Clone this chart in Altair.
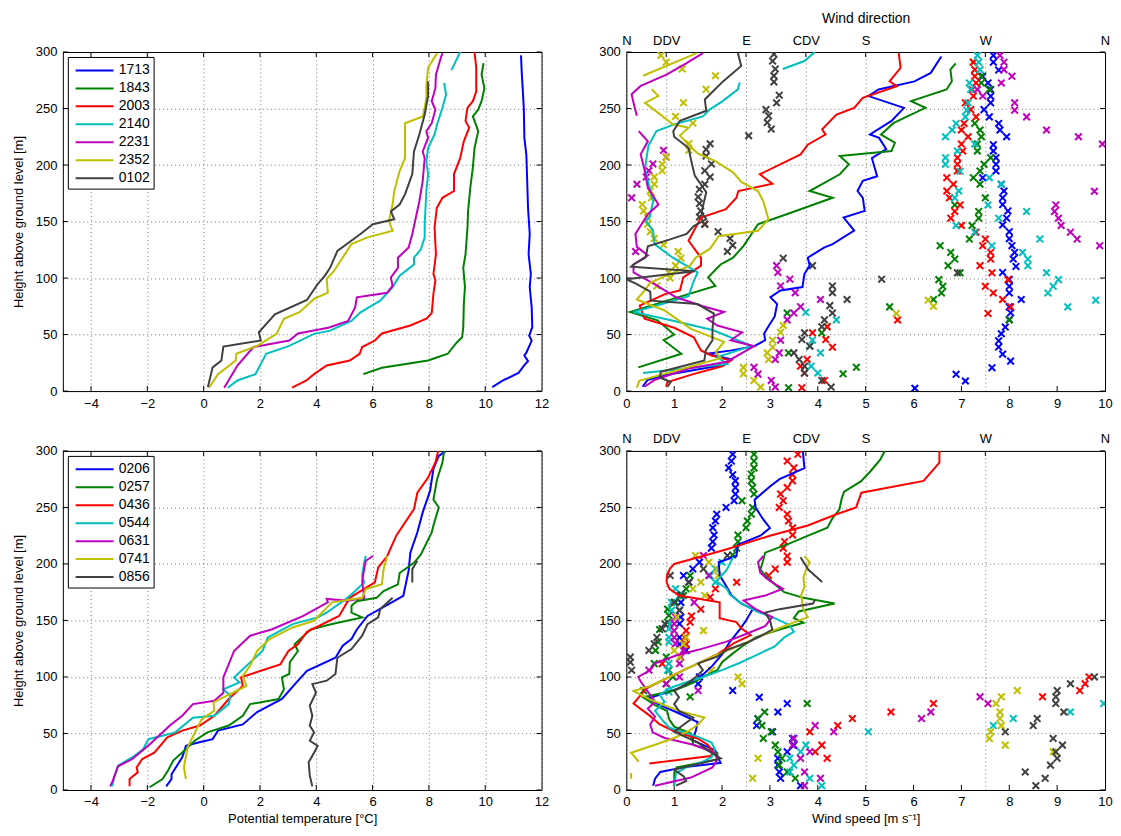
import altair as alt
import pandas as pd

FONT = "Liberation Sans"
RUNS_TOP = ["1713", "1843", "2003", "2140", "2231", "2352", "0102"]
RUNS_BOT = ["0206", "0257", "0436", "0544", "0631", "0741", "0856"]
COLORS = ["#0000ff", "#008000", "#ff0000", "#00bfbf", "#bf00bf", "#bfbf00", "#404040"]

TEMP_TICKS = [-4, -2, 0, 2, 4, 6, 8, 10, 12]
SPEED_TICKS = [0, 1, 2, 3, 4, 5, 6, 7, 8, 9, 10]
HEIGHT_TICKS = [0, 50, 100, 150, 200, 250, 300]
DIR_TICKS = [0, 30, 90, 135, 180, 270, 360]
DIR_NAMES = ["N", "DDV", "E", "CDV", "S", "W", "N"]

# ---------------- potential temperature, evening/night (height m, theta degC) ----------------
TH_1713 = [(3.5,10.25),(9.4,10.63),(16,11.18),(23,11.39),(26.5,11.52),(31.5,11.39),(34,11.46),(44.7,11.65),(49,11.56),(56.5,11.67),(74,11.65),(92,11.58),(103.5,11.62),(121,11.54),(139,11.58),(162,11.52),(186,11.49),(209,11.46),(224,11.39),(250,11.37),(268,11.33),(280,11.30),(297,11.27)]
TH_1843 = [(15,5.67),(20.6,6.33),(27,7.97),(33,8.67),(43,8.99),(47.6,9.18),(56.5,9.22),(77,9.24),(92,9.28),(109,9.22),(121,9.30),(144.7,9.37),(159,9.39),(180,9.47),(197.6,9.56),(215,9.62),(230,9.75),(239,9.62),(243,9.56),(249,9.75),(256.5,9.87),(268,9.97),(280,9.87),(290,9.94)]
TH_2003 = [(3,3.14),(9.4,3.65),(15,3.92),(22.6,4.37),(27,5.19),(33,5.54),(39,5.63),(44.7,6.08),(51,6.33),(58,7.34),(64,7.91),(69,8.10),(86,8.16),(98,8.23),(103.5,8.16),(121,8.25),(144.7,8.20),(162,8.28),(171,8.48),(177,8.89),(192,8.89),(206,9.11),(221,9.24),(233,9.43),(239,9.30),(250.6,9.37),(256.5,9.56),(265,9.68),(286,9.68),(300,9.62)]
TH_2140_A = [(3,0.86),(9.4,1.20),(15,1.84),(33,2.22),(40,3.04),(50.6,3.92),(53.5,4.49),(62,5.25),(69.7,5.57),(80,6.27),(92,6.71),(102,6.96),(112,7.47),(118,7.47),(125.6,7.72),(136,7.85),(147.6,7.85),(177,7.91),(192,7.97),(203.5,7.91),(215,7.97),(227,8.20),(236,8.29),(250.6,8.48),(262.4,8.61),(272.6,8.54)]
TH_2140_B = [(284,8.80),(300,9.11)]
TH_2231 = [(3,0.73),(22.6,1.20),(39,1.77),(44.7,3.04),(51,3.35),(56,4.43),(62,5.13),(74,5.38),(83,5.44),(87,6.52),(93,6.71),(100.6,6.65),(109,6.90),(118,6.90),(127,7.28),(139,7.41),(168,7.66),(186,7.78),(206,7.85),(212,7.78),(224,7.97),(230,7.91),(237,8.10),(249,8.23),(256.5,8.10),(268,8.23),(280,8.25),(294.7,8.42),(299,8.48)]
TH_2352 = [(3,0.19),(15,0.51),(27,1.14),(33,1.16),(40,1.90),(50.6,2.59),(64,2.85),(70,3.42),(81.5,3.92),(87,4.41),(99,4.37),(106,4.62),(130,5.25),(136,5.82),(141.8,6.71),(150.6,6.58),(165,6.71),(177,6.77),(194.7,6.96),(206,7.15),(226,7.15),(237,7.15),(243,7.78),(250.6,7.85),(260,7.91),(270,7.91),(286,7.97),(299,8.29)]
TH_0102 = [(3.5,0.15),(21,0.32),(27,0.63),(39.4,0.70),(44.7,2.03),(52,1.96),(68,2.53),(80.6,3.67),(94.7,4.05),(102,4.30),(109,4.49),(124,4.75),(139,5.57),(147.6,6.01),(152,6.77),(159,6.65),(165,6.96),(174,7.15),(192,7.41),(212,7.47),(227,7.66),(244.7,7.85),(261,7.97),(274,7.97)]

# ---------------- potential temperature, morning ----------------
TH_0206 = [(3.2,-1.33),(9.7,-1.14),(14,-1.14),(29,-0.76),(39,-0.63),(42,-0.19),(45,0.32),(52.5,0.51),(58,1.39),(69,1.90),(80.5,2.78),(95,3.29),(105.5,3.67),(117,4.68),(127.6,4.94),(133.5,5.25),(142,5.44),(154,5.82),(163,6.46),(171.8,7.09),(194,7.28),(210,7.34),(228,7.59),(245.6,7.78),(264.6,8.04),(284,8.16),(295.6,8.35),(300,8.61)]
TH_0257 = [(2.4,-1.92),(9.7,-1.46),(17,-1.27),(26,-1.08),(36,-0.63),(43.6,-0.32),(51,0.13),(57,0.89),(65.7,1.39),(76,1.65),(80.5,2.66),(89,2.85),(99.6,2.78),(102.6,3.04),(113,3.06),(123,3.35),(129,3.23),(142,3.80),(146.8,4.56),(152.7,5.63),(157,5.25),(163,5.25),(167,5.44),(170,6.14),(176,6.39),(182,6.90),(192,6.96),(201,7.47),(208.6,7.72),(227.8,8.10),(234,8.16),(250,8.35),(257,8.16),(275,8.29),(289.7,8.48),(300,8.54)]
TH_0436 = [(3.2,-2.63),(9.7,-2.63),(15.6,-2.34),(20,-2.38),(27.4,-2.18),(33,-1.75),(46.6,-1.29),(52.5,-0.76),(57,-0.13),(65.7,0.38),(80.5,0.89),(92,1.39),(99.6,1.33),(105.5,2.03),(111,2.72),(123,3.01),(129,3.35),(140,3.67),(154,4.81),(170,5.19),(183.6,6.08),(197,6.20),(207,6.52),(225,6.84),(248.5,7.47),(263,7.59),(276.4,7.97),(289.7,8.23),(300,8.33)]
TH_0544 = [(3.2,-3.25),(12.7,-3.16),(21.5,-3.04),(29,-2.53),(36,-2.15),(45,-1.96),(48,-1.46),(51,-1.01),(64,-0.38),(65.7,0.38),(76,0.89),(83.4,0.95),(89,0.70),(95.2,1.27),(99.6,1.08),(112.9,1.65),(123,2.09),(135,2.28),(146.8,3.16),(152.7,4.05),(157,4.37),(167,4.94),(173,5.25),(183.6,5.70),(189.5,5.63),(201,5.70),(207,5.76)]
TH_0631 = [(3.2,-3.32),(8,-3.23),(21,-3.04),(27.4,-2.53),(40.7,-1.90),(57,-1.20),(65.7,-0.76),(76,-0.38),(79,0.38),(86,0.70),(99.6,0.70),(123,1.08),(136.5,1.65),(142,2.41),(154,3.54),(166,4.41),(169,4.37),(167.5,5.13),(170,5.70),(185,5.63),(195.4,5.70),(202.8,5.76),(207,6.01)]
TH_0741 = [(9.7,-0.63),(20,-0.70),(37.7,-0.57),(54,-0.25),(62.8,-0.06),(70,0.38),(77.5,0.35),(92,1.52),(101,1.39),(110,1.65),(123,1.90),(133.5,2.34),(143.8,3.16),(149.7,3.92),(166,4.56),(170,5.63),(177.7,5.76),(182,6.33),(195.4,6.39),(207,6.52)]
TH_0856_A = [(3.2,3.86),(12.7,3.77),(24.5,3.73),(33,3.92),(39,4.05),(43.6,3.77),(51,3.92),(57,3.77),(65.7,3.86),(74.6,3.77),(86,3.99),(93.7,3.86),(96.7,4.37),(102.6,4.68),(117,4.75),(124.7,5.25),(136.5,5.63),(146.8,5.82),(152.7,6.20),(160,6.27),(170,6.71)]
TH_0856_B = [(183.6,7.41),(195.4,7.41),(202.8,7.59)]

# ---------------- wind speed, evening/night (height m, speed m/s) ----------------
WS_1713 = [(3.8,0.34),(9.7,0.44),(14,0.8),(20,1.6),(23,2.04),(28,2.2),(33,1.69),(36,2.2),(39.7,2.67),(45,2.9),(51,2.88),(58,2.98),(66,3.1),(77,3.15),(83,3.01),(89,3.22),(92,3.68),(103.5,3.72),(111,3.83),(118,3.79),(127,4.13),(130,4.31),(142,4.76),(153.5,4.54),(159.4,4.98),(171,4.94),(177,4.83),(186,4.94),(190,5.24),(206,5.13),(214,5.43),(224,5.28),(227,5.09),(239,5.54),(250.6,5.80),(261,5.06),(266.8,5.27),(274,6.02),(281.5,6.36),(296,6.58)]
WS_1843 = [(21,0.25),(33,1.15),(45,0.78),(50,1.0),(62.6,0.65),(70,0.08),(78,0.7),(84.7,1.21),(93,1.86),(100.6,1.71),(112,1.97),(118,2.23),(128.5,2.45),(147.6,2.75),(156.5,3.35),(171,4.31),(177,3.83),(191.8,4.46),(200.6,4.65),(208,4.46),(212.4,5.54),(219.7,5.61),(227,5.32),(237,5.58),(243,5.87),(250.6,6.25),(256.5,5.95),(266.8,6.69),(274,6.80),(284.4,6.77),(290,6.88)]
WS_2003 = [(3.8,0.83),(8,0.86),(15,1.4),(22,2.0),(27,2.18),(31.5,1.78),(36,1.56),(47.6,1.41),(56,1.0),(64,0.38),(75.6,0.28),(86,0.82),(89,1.12),(100.6,1.19),(111,1.56),(118,1.56),(133,1.30),(153.5,1.56),(161,2.08),(171,2.30),(177,2.34),(183.5,3.05),(191.8,2.79),(209.4,3.64),(218,3.79),(227,4.16),(231.5,4.09),(244.7,4.39),(250.6,4.76),(259.4,4.94),(269.7,5.65),(274,5.50),(286,5.73),(299,5.69)]
WS_2140_A = [(16,0.35),(24,2.1),(30,1.9),(40,2.62),(54,1.8),(62,1.0),(70,0.15),(77,0.75),(84,1.3),(97.6,1.41),(105,1.49),(118,0.97),(130,0.59),(141.8,0.56),(150.6,0.41),(154,0.49),(168,0.56),(184.7,0.46),(196.5,0.39),(217,0.46),(230,0.63),(236,1.0),(243,1.6),(249,1.74),(256.8,2.02),(267,2.33),(273,2.37)]
WS_2140_B = [(285,3.27),(292,3.72),(300,3.94)]
WS_2231_A = [(3.8,0.38),(10,0.6),(20,1.3),(26,2.1),(39.7,2.67),(45,2.18),(52,2.42),(58,1.9),(64,1.69),(70,2.04),(75,1.6),(83,1.04),(94.7,0.59),(105,0.15),(112,0.15),(120,0.45),(127.6,0.22),(139,0.19),(156.5,0.45),(165,0.67),(180,0.45),(197.6,0.37),(209.4,0.30),(221,0.45),(230,0.26)]
WS_2231_B = [(243.5,0.22),(255,0.15),(262.6,0.11),(270,0.3),(280,0.84),(290,1.25),(299,1.60)]
WS_2352_A = [(3,0.22),(9,0.27),(29,1.97),(34.7,1.87),(43.5,2.04),(55,1.35),(71.5,0.79),(81,0.22),(90,0.4),(96,0.5),(105,1.0),(111,1.33),(118,1.45),(126,1.75),(137,1.93),(141.8,2.75),(152,2.97),(168,2.86),(177,2.75),(185,2.4),(193.5,2.23),(203.5,1.86),(210,1.5),(218,1.3),(226,1.12),(230,1.22),(233,1.3),(236,0.97),(245,0.70),(255,0.39),(261,0.67),(267,0.53)]
WS_2352_B = [(279,0.35),(299,1.47)]
WS_0102 = [(3.8,0.86),(8,0.93),(12,0.7),(17,0.72),(27,1.63),(36,1.66),(45,1.8),(55,1.8),(68.5,1.83),(77,1.49),(80,0.51),(88,0.5),(95,0.2),(99,0.0),(103,0.8),(106,1.43),(110,0.1),(112,0.15),(118,0.4),(128,0.45),(134,0.9),(139,1.26),(146,1.41),(152,1.67),(158,1.57),(176,1.67),(190.6,1.43),(205,1.35),(215,1.3),(225,1.0),(230,0.98),(239,1.12),(248,1.67),(258,1.64),(274,2.02),(287.6,2.40),(299,2.33)]

# ---------------- wind speed, morning ----------------
WS_0206 = [(3.8,0.56),(10,0.6),(16,0.71),(20,1.19),(24,1.97),(30,1.9),(35,1.86),(44,1.38),(52,1.45),(60,1.49),(69,1.04),(75,0.7),(81,0.45),(87,0.9),(92.6,1.26),(100,1.55),(110,1.8),(120,2.0),(130.9,2.16),(142.6,2.38),(150,2.5),(160,2.64),(165,2.4),(172,2.2),(181,2.08),(190,1.95),(201.5,1.93),(207,2.30),(217,2.33),(225,2.8),(231.8,3.0),(240,2.85),(250,2.7),(256.8,2.68),(268.5,3.0),(275,3.2),(284.7,3.72),(299,3.69)]
WS_0257 = [(4,1.0),(15,1.0),(20,1.05),(27,1.9),(33,1.9),(40,1.4),(50,1.35),(56,1.0),(62,0.9),(70,0.85),(75,0.6),(82,0.35),(88,1.0),(95,1.4),(100,1.6),(106,1.9),(113,2.0),(120,2.2),(128,2.45),(135,2.7),(142,3.2),(148,3.7),(152,3.5),(158,3.6),(165,4.35),(170,3.7),(175,3.3),(182,3.1),(190,2.9),(195,2.8),(202,2.85),(210,2.9),(218,3.4),(225,3.8),(232,4.2),(240,4.3),(248,4.45),(258,4.5),(264,4.55),(273,4.9),(282,5.1),(292,5.3),(300,5.4)]
WS_0436 = [(23.5,0.48),(30,1.76),(33.8,1.82),(40,1.7),(45.6,1.49),(52,1.0),(58,0.7),(66,0.48),(76.5,0.15),(84,0.3),(89.7,0.41),(100,0.9),(110,1.4),(120,1.9),(130,2.25),(137,2.6),(143,2.4),(148.5,2.3),(152,1.95),(160,1.95),(166,1.95),(172,1.1),(178,0.9),(184,0.84),(190,0.85),(195.6,0.91),(200,1.0),(207,1.6),(213,2.1),(225,3.0),(234,3.79),(244,4.39),(250,4.8),(263,4.91),(273.5,6.21),(289.7,6.54),(300,6.54)]
WS_0544 = [(4,1.0),(15,1.04),(20,1.25),(25,1.6),(29,1.78),(36,1.85),(42,1.78),(47,1.5),(55,0.9),(62,0.75),(70,0.6),(78,0.8),(84,0.7),(90,0.9),(96,1.3),(100,1.6),(106,2.0),(113,2.4),(120,2.75),(127,3.1),(135,3.3),(140,3.5),(146,3.4),(152,3.1),(158,2.72),(165,2.4),(173,2.16),(178,2.1),(184.7,1.88),(195,2.1),(206,2.23)]
WS_0631 = [(3.8,0.6),(11,1.35),(20,1.8),(27,1.9),(33,1.85),(40,1.4),(46,0.8),(51,0.55),(58,0.5),(65,0.6),(72,0.45),(78,0.6),(84,0.5),(90,0.4),(96,0.3),(100,0.25),(106,0.5),(112,0.6),(119,1.04),(124,1.5),(131,2.08),(138,2.5),(145,2.9),(153,3.05),(160,2.7),(167.6,2.45),(172,2.9),(178,3.27),(185,3.0),(192,2.8),(201.5,2.75),(207,2.86)]
WS_0741_A = [(10,0.1),(15,0.1)]
WS_0741_B = [(25,0.26),(33,0.1),(40,0.6),(46,1.0),(52,1.3),(58,1.5),(64,1.63),(70,1.1),(75,0.8),(80,0.5),(87.6,0.15),(92,0.5),(98,0.8),(104,1.1),(110,1.4),(118,1.8),(125,2.2),(131,2.53),(138,2.9),(145,3.3),(153,3.79),(160,3.7),(165,3.68),(172,3.65),(180,3.72),(188,3.7),(195.6,3.76),(201.5,3.83),(207,3.72)]
WS_0856_A = [(3.8,1.04),(8,1.25),(12,1.2),(18,1.0),(23,1.5),(28,1.97),(35,1.7),(42,1.5),(51.5,1.0),(58,1.2),(64,1.4),(70,1.1),(76,1.0),(82,1.1),(88,1.0),(95,1.3),(100,1.45),(106,1.6),(112,1.5),(118,1.9),(124,2.1),(130,2.5),(136,2.8),(142,3.05),(150,3.0),(157,2.9),(160,3.2),(165,3.9),(168,3.94)]
WS_0856_B = [(184,4.09),(195,3.8),(206,3.64)]

# ---------------- wind direction, evening/night (height m, direction deg) ----------------
WD_1713 = [(297,276),(291,276),(284,280),(278.5,268),(272.6,272),(266.8,274),(260.9,274),(255,274),(249,269),(242.6,273),(236.8,280),(231,281),(225,286),(218,276),(212.4,276),(206.5,278),(200.6,278),(194.7,278),(188.8,268),(183,282),(177,284),(171,283),(165,283),(159.4,287),(153,286),(147,283),(141,288),(134.8,288),(128.6,290),(122.7,292),(116.8,291),(110.3,293),(105,283),(98.6,288),(92.7,288),(86.8,288),(81,297),(74.5,288),(69.2,289),(63.3,288),(56.6,285),(50.7,282),(44.5,280),(38.9,280),(32.7,283),(26.5,289),(20.7,275),(14.8,248),(8.9,255),(2.5,217)]
WD_1843 = [(291,261),(278.5,267),(272.6,267),(266.8,273),(236.8,262),(231,266),(225,267),(218.5,264),(212.4,264),(206.5,274),(200.6,269),(194.7,266),(188.8,261),(183,266),(171,270),(164.7,247),(158.9,265),(153,265),(146.5,260),(134.5,258),(128.6,236),(122.7,244),(116.8,247),(111,242),(104.6,251),(98.6,235),(92.7,238),(86.8,237),(81,231),(74.5,198),(62.9,288),(69,121),(57,151),(51.5,147),(33.8,122),(21,173),(15.3,163),(3,122)]
WD_2003 = [(291,261),(284.4,262),(278.5,262),(272.6,263),(266.8,260),(261,261),(255,255),(249,259),(242.6,263),(236.8,254),(231,252),(225,257),(218.5,252),(212.4,253),(206.5,249),(200.6,249),(194.7,249),(188.8,241),(183,246),(177,241),(171,243),(164.7,251),(158.9,247),(153,244),(146.5,252),(140.6,263),(134.5,270),(128.6,268),(122.7,274),(116.8,274),(111,266),(104.6,275),(98.6,287),(92.7,270),(86.8,276),(81,283),(74.5,289),(68.7,272),(62.9,204),(147.6,59),(57,151),(51.5,140),(45.6,150),(38.8,155),(28,136),(22,131),(15.9,134),(9.4,149),(3,132)]
WD_2140 = [(297,264),(291,265),(284.4,266),(272.6,258),(266.8,259),(255,257),(248.5,256),(242.6,255),(236.8,248),(231,245),(225,240),(218.5,262),(212.4,249),(206.5,240),(200.6,240),(194.4,251),(188.8,273),(183,282),(177,250),(171,247),(164.7,272),(158.9,301),(153,280),(146.5,248),(140.6,262),(134.5,311),(128.6,275),(122.7,298),(116.8,302),(111,302),(104.6,316),(98.6,325),(92.7,321),(86.8,317),(80.4,353),(74.5,332),(69.7,135),(63,158),(45,140),(39.7,138),(33.8,146),(22,139),(16,144)]
WD_2231 = [(297,281),(291,284),(284.4,284),(278.5,290),(272.6,282),(266.8,264),(261,268),(255,292),(248.5,292),(242.6,301),(231,316),(225,340),(218.5,358),(176.8,352),(164.7,323),(158.9,322),(153,325),(146.5,327),(140.6,334),(134.5,339),(128.6,356),(213,28),(207,30),(201,20),(195,17),(189.4,15),(183,8),(171,4),(123.5,7),(111,113),(105,114),(99,123),(93,116),(87,127),(81,146),(74.7,131),(69,126),(63,121),(45,116),(33.8,115),(28,112),(21,96),(15,99),(9.4,109),(3.5,112)]
WD_2352 = [(297,26),(291,30),(285,42),(279,67),(267,60),(255,43),(243,37),(237,50),(219,47),(213,47),(207,30),(200.6,27),(195,27),(189.4,21),(183,21),(177,18),(171,19),(165,12),(159.4,13),(153.5,16),(147.6,16),(141,18),(135,21),(129.4,28),(123.5,39),(117.6,41),(111,37),(105,32),(100,33),(93,23),(80.4,227),(75,231),(68.7,203),(58,118),(52,116),(45,110),(38.8,110),(33.8,106),(28,107),(21,88),(15.3,88),(9.4,96),(3.5,101)]
WD_0102 = [(298,111),(292,110),(285,112),(279,111),(273.5,111),(261.8,115),(255,113),(249,105),(243.5,107),(237.6,106),(231.8,109),(225.9,92),(218.8,63),(213.8,60),(208,60),(201,64),(195,59),(189.4,63),(183,59),(178.5,55),(171.8,54),(166,55),(159.4,56),(154,55),(147.6,59),(141,69),(135,78),(129,80),(123.5,76),(117.6,118),(111,140),(104.6,249),(99,192),(93,155),(87,155),(81,166),(75.6,153),(69,155),(63,149),(57,147),(51.5,134),(45.6,132),(39.7,138),(33.8,126),(28,130),(22,134),(15.9,134),(9.4,147),(3.5,154)]

# ---------------- wind direction, morning ----------------
WD_0206 = [(297,80),(291,79),(285,77),(279,80),(273.5,82),(267.6,82),(261.8,82),(256,81),(250,75),(244,68),(238,67),(232,65),(225.6,66),(219.7,65),(214,64),(201.5,55),(195.6,50),(189.7,43),(183.8,47),(173.5,41),(166,41),(159,40),(153,41),(147,40),(135,40),(129,40),(123.5,45),(100,55),(94,54),(88,80),(82,100),(76.5,121),(69,114),(63,99),(57,98),(51.5,110),(45.6,125),(39.7,126),(33.8,121),(28,114),(22,114),(16,115),(10.3,116),(3.8,131)]
WD_0257 = [(297,96),(291,96),(285,96),(279.4,94),(273.5,94),(267.6,95),(261.8,96),(256,87),(250,95),(244,94),(238,91),(232,90),(225.6,84),(219.7,84),(214,83),(208,80),(189.7,48),(178,45),(172,43),(166,37),(160,31),(154.4,32),(148.5,31),(142,25),(131,24),(123.5,22),(117.6,30),(111.8,21),(106,32),(100,35),(94,30),(88,13),(82.4,48),(76.5,136),(69,104),(63.2,99),(57,102),(51.5,109),(45.6,103),(39.7,112),(33.8,114),(28,117),(22,115),(16,121),(10.3,127)]
WD_0436 = [(297,129),(291,121),(285,126),(279,125),(273.5,125),(267.6,121),(261.8,116),(256,118),(250,115),(244,121),(238,122),(232,125),(225.6,125),(219.7,119),(214,118),(207,121),(201.5,121),(195.6,112),(189.7,107),(183.8,83),(178,67),(170.6,63),(160,56),(154,49),(148.5,48),(141,45),(135,44),(129,45),(123.5,43),(111.8,27),(100,348),(94,345),(88,341),(82.4,313),(76.5,231),(69,199),(63.2,170),(57,159),(51.5,138),(39.7,147),(33.8,142),(28,151)]
WD_0544 = [(201.5,72),(195.6,67),(189.7,63),(183.8,67),(178,37),(172,40),(166,34),(159,34),(147,33),(142.6,32),(135,32),(131,32),(111.8,32),(106,31),(86.8,32),(76.5,359),(69,334),(63.2,291),(57,276),(51.5,182),(45.6,126),(39.7,135),(33.8,131),(28,123),(22,126),(16,123),(10.3,138),(3.8,147)]
WD_0631 = [(207.4,58),(189.7,62),(166,51),(153,37),(147,36),(141,36),(135,36),(129.4,37),(123.5,43),(117.6,41),(111.8,40),(106,17),(100,40),(94,30),(88,54),(82.4,266),(76.5,272),(69,229),(63.2,222),(57,142),(51.5,156),(45.6,126),(39.7,125),(33.8,138),(28,131),(16,134),(10.3,146),(3.8,134)]
WD_0741 = [(207.4,52),(201.5,62),(195.6,68),(189.7,69),(183.8,56),(178,50),(172,59),(153,38),(141,58),(135,45),(129,43),(123.5,36),(117.6,40),(106,64),(100,84),(94,87),(88,294),(82.4,282),(76.5,278),(69,281),(63.2,281),(57,282),(51.5,274),(45.6,273),(39.7,285),(33.8,321),(28,99),(10.3,95)]
WD_0856 = [(207.4,76),(195.6,58),(189.7,33),(183.8,47),(172,41),(166,36),(159,40),(147,29),(142.6,27),(135,23),(129.4,21),(123.5,17),(117.6,3),(113,3),(106,4),(100,352),(94,334),(88,324),(82.4,323),(76.5,323),(69,329),(63.2,309),(57,306),(51.5,285),(45.6,321),(39.7,328),(33.8,323),(28,324),(22,319),(16,300),(10.3,315),(3.8,308)]

THETA_TOP = {"1713": [TH_1713], "1843": [TH_1843], "2003": [TH_2003], "2140": [TH_2140_A, TH_2140_B],
             "2231": [TH_2231], "2352": [TH_2352], "0102": [TH_0102]}
THETA_BOT = {"0206": [TH_0206], "0257": [TH_0257], "0436": [TH_0436], "0544": [TH_0544],
             "0631": [TH_0631], "0741": [TH_0741], "0856": [TH_0856_A, TH_0856_B]}
SPEED_TOP = {"1713": [WS_1713], "1843": [WS_1843], "2003": [WS_2003], "2140": [WS_2140_A, WS_2140_B],
             "2231": [WS_2231_A, WS_2231_B], "2352": [WS_2352_A, WS_2352_B], "0102": [WS_0102]}
SPEED_BOT = {"0206": [WS_0206], "0257": [WS_0257], "0436": [WS_0436], "0544": [WS_0544],
             "0631": [WS_0631], "0741": [WS_0741_A, WS_0741_B], "0856": [WS_0856_A, WS_0856_B]}
DIR_TOP = {"1713": WD_1713, "1843": WD_1843, "2003": WD_2003, "2140": WD_2140,
           "2231": WD_2231, "2352": WD_2352, "0102": WD_0102}
DIR_BOT = {"0206": WD_0206, "0257": WD_0257, "0436": WD_0436, "0544": WD_0544,
           "0631": WD_0631, "0741": WD_0741, "0856": WD_0856}


def profile_frame(series, runs):
    rows = []
    for run in runs:
        for si, seg in enumerate(series[run]):
            for i, (h, v) in enumerate(seg):
                rows.append({"run": run, "seg": f"{run}_{si}", "i": i, "h": h, "v": v})
    return pd.DataFrame(rows)


def dir_frame(series, runs):
    rows = []
    for run in runs:
        for h, d in series[run]:
            rows.append({"run": run, "h": h, "d": d})
    return pd.DataFrame(rows)


GRID = dict(grid=True, gridDash=[1, 3], gridColor="#000000", gridOpacity=0.55, gridWidth=1)
W, H = 480, 340
TICK = 5
TICK_STYLE = dict(color="black", strokeWidth=1)


def y_enc(title):
    return alt.Y("h:Q", scale=alt.Scale(domain=[0, 300], nice=False, zero=False),
                 axis=alt.Axis(values=HEIGHT_TICKS, title=title, ticks=False, domain=False,
                               labelPadding=6, titlePadding=10, labelFlush=False, **GRID))


def y_ticks(title):
    df = pd.DataFrame({"h": HEIGHT_TICKS})
    left = alt.Chart(df).mark_rule(**TICK_STYLE).encode(
        y=y_enc(title), x=alt.value(0), x2=alt.value(TICK))
    right = alt.Chart(df).mark_rule(**TICK_STYLE).encode(
        y=y_enc(title), x=alt.value(W - TICK), x2=alt.value(W))
    return [left, right]


def x_ticks(field, values, xenc, top=True, bottom=True):
    df = pd.DataFrame({field: values})
    out = []
    if bottom:
        out.append(alt.Chart(df).mark_rule(**TICK_STYLE).encode(
            x=xenc, y=alt.value(H - TICK), y2=alt.value(H)))
    if top:
        out.append(alt.Chart(df).mark_rule(**TICK_STYLE).encode(
            x=xenc, y=alt.value(0), y2=alt.value(TICK)))
    return out


def color_enc(runs, legend):
    if legend:
        lg = alt.Legend(orient="top-left", title=None, symbolType="M -0.6 0 L 3.4 0", symbolSize=361,
                        symbolStrokeWidth=2, labelFontSize=14, labelFont=FONT, labelColor="black",
                        strokeColor="black", fillColor="white", padding=3, rowPadding=-2.5,
                        offset=5, labelOffset=27, cornerRadius=0, symbolOpacity=1)
        return alt.Color("run:N", scale=alt.Scale(domain=runs, range=COLORS), legend=lg)
    return alt.Color("run:N", scale=alt.Scale(domain=runs, range=COLORS), legend=None)


def theta_panel(series, runs, xtitle):
    df = profile_frame(series, runs)
    xenc = alt.X("v:Q", scale=alt.Scale(domain=[-5, 12], nice=False, zero=False),
                 axis=alt.Axis(values=TEMP_TICKS, title=xtitle, ticks=False, domain=False,
                               labelPadding=6, titlePadding=4, labelFlush=False, **GRID))
    lines = alt.Chart(df).mark_line(strokeWidth=2, clip=True).encode(
        x=xenc,
        y=y_enc("Height above ground level [m]"),
        color=color_enc(runs, True),
        detail="seg:N",
        order="i:Q",
    )
    layers = x_ticks("v", TEMP_TICKS[:-1], xenc) + y_ticks("Height above ground level [m]") + [lines]
    return alt.layer(*layers).properties(width=W, height=H)


DIR_LABEL = " : ".join(
    f"datum.value == {v} ? '{n}'" for v, n in zip(DIR_TICKS[:-1], DIR_NAMES[:-1])
) + f" : '{DIR_NAMES[-1]}'"


def wind_panel(speed, direction, runs, xtitle, dtitle):
    dfl = profile_frame(speed, runs)
    dfp = dir_frame(direction, runs)
    denc = alt.X("d:Q", scale=alt.Scale(domain=[0, 360], nice=False, zero=False),
                 axis=alt.Axis(orient="top", values=DIR_TICKS, labelExpr=DIR_LABEL, title=dtitle,
                               ticks=False, domain=False, labelPadding=5, titlePadding=9,
                               titleFontSize=14,
                               labelOverlap=False, labelBound=False, labelFlush=False, **GRID))
    venc = alt.X("v:Q", scale=alt.Scale(domain=[0, 10], nice=False, zero=False),
                 axis=alt.Axis(values=SPEED_TICKS, title=xtitle, ticks=False, domain=False,
                               grid=False, labelPadding=6, titlePadding=4, labelFlush=False))
    crosses = alt.Chart(dfp).mark_point(
        shape="M -1 -1 L 1 1 M -1 1 L 1 -1", filled=False, strokeWidth=2, size=44, opacity=1, clip=True
    ).encode(
        x=denc,
        y=y_enc(None),
        color=color_enc(runs, False),
    )
    lines = alt.Chart(dfl).mark_line(strokeWidth=2, clip=True).encode(
        x=venc,
        y=y_enc(None),
        color=color_enc(runs, False),
        detail="seg:N",
        order="i:Q",
    )
    dir_layer = alt.layer(crosses, *x_ticks("d", DIR_TICKS[1:-1], denc, top=True, bottom=False))
    spd_layer = alt.layer(*(x_ticks("v", SPEED_TICKS[1:-1], venc, top=False, bottom=True)
                            + y_ticks(None)), lines)
    return alt.layer(dir_layer, spd_layer).resolve_scale(x="independent").properties(width=W, height=H)


tl = theta_panel(THETA_TOP, RUNS_TOP, None)
tr = wind_panel(SPEED_TOP, DIR_TOP, RUNS_TOP, None, "Wind direction")
bl = theta_panel(THETA_BOT, RUNS_BOT, "Potential temperature [°C]")
br = wind_panel(SPEED_BOT, DIR_BOT, RUNS_BOT, "Wind speed [m s⁻¹]", None)

chart = alt.concat(
    tl, tr, bl, br, columns=2, spacing={"row": 60, "column": 85}, bounds="flush"
).resolve_scale(color="independent").properties(
    padding={"left": 3, "top": 1, "right": 0, "bottom": 0}
).configure_view(
    stroke="black", strokeWidth=1
).configure_axis(
    labelFont=FONT, titleFont=FONT, labelFontSize=13, titleFontSize=13,
    titleFontWeight="normal", labelColor="black", titleColor="black"
)

chart.save("out.html", embed_options={"renderer": "svg", "actions": False})
